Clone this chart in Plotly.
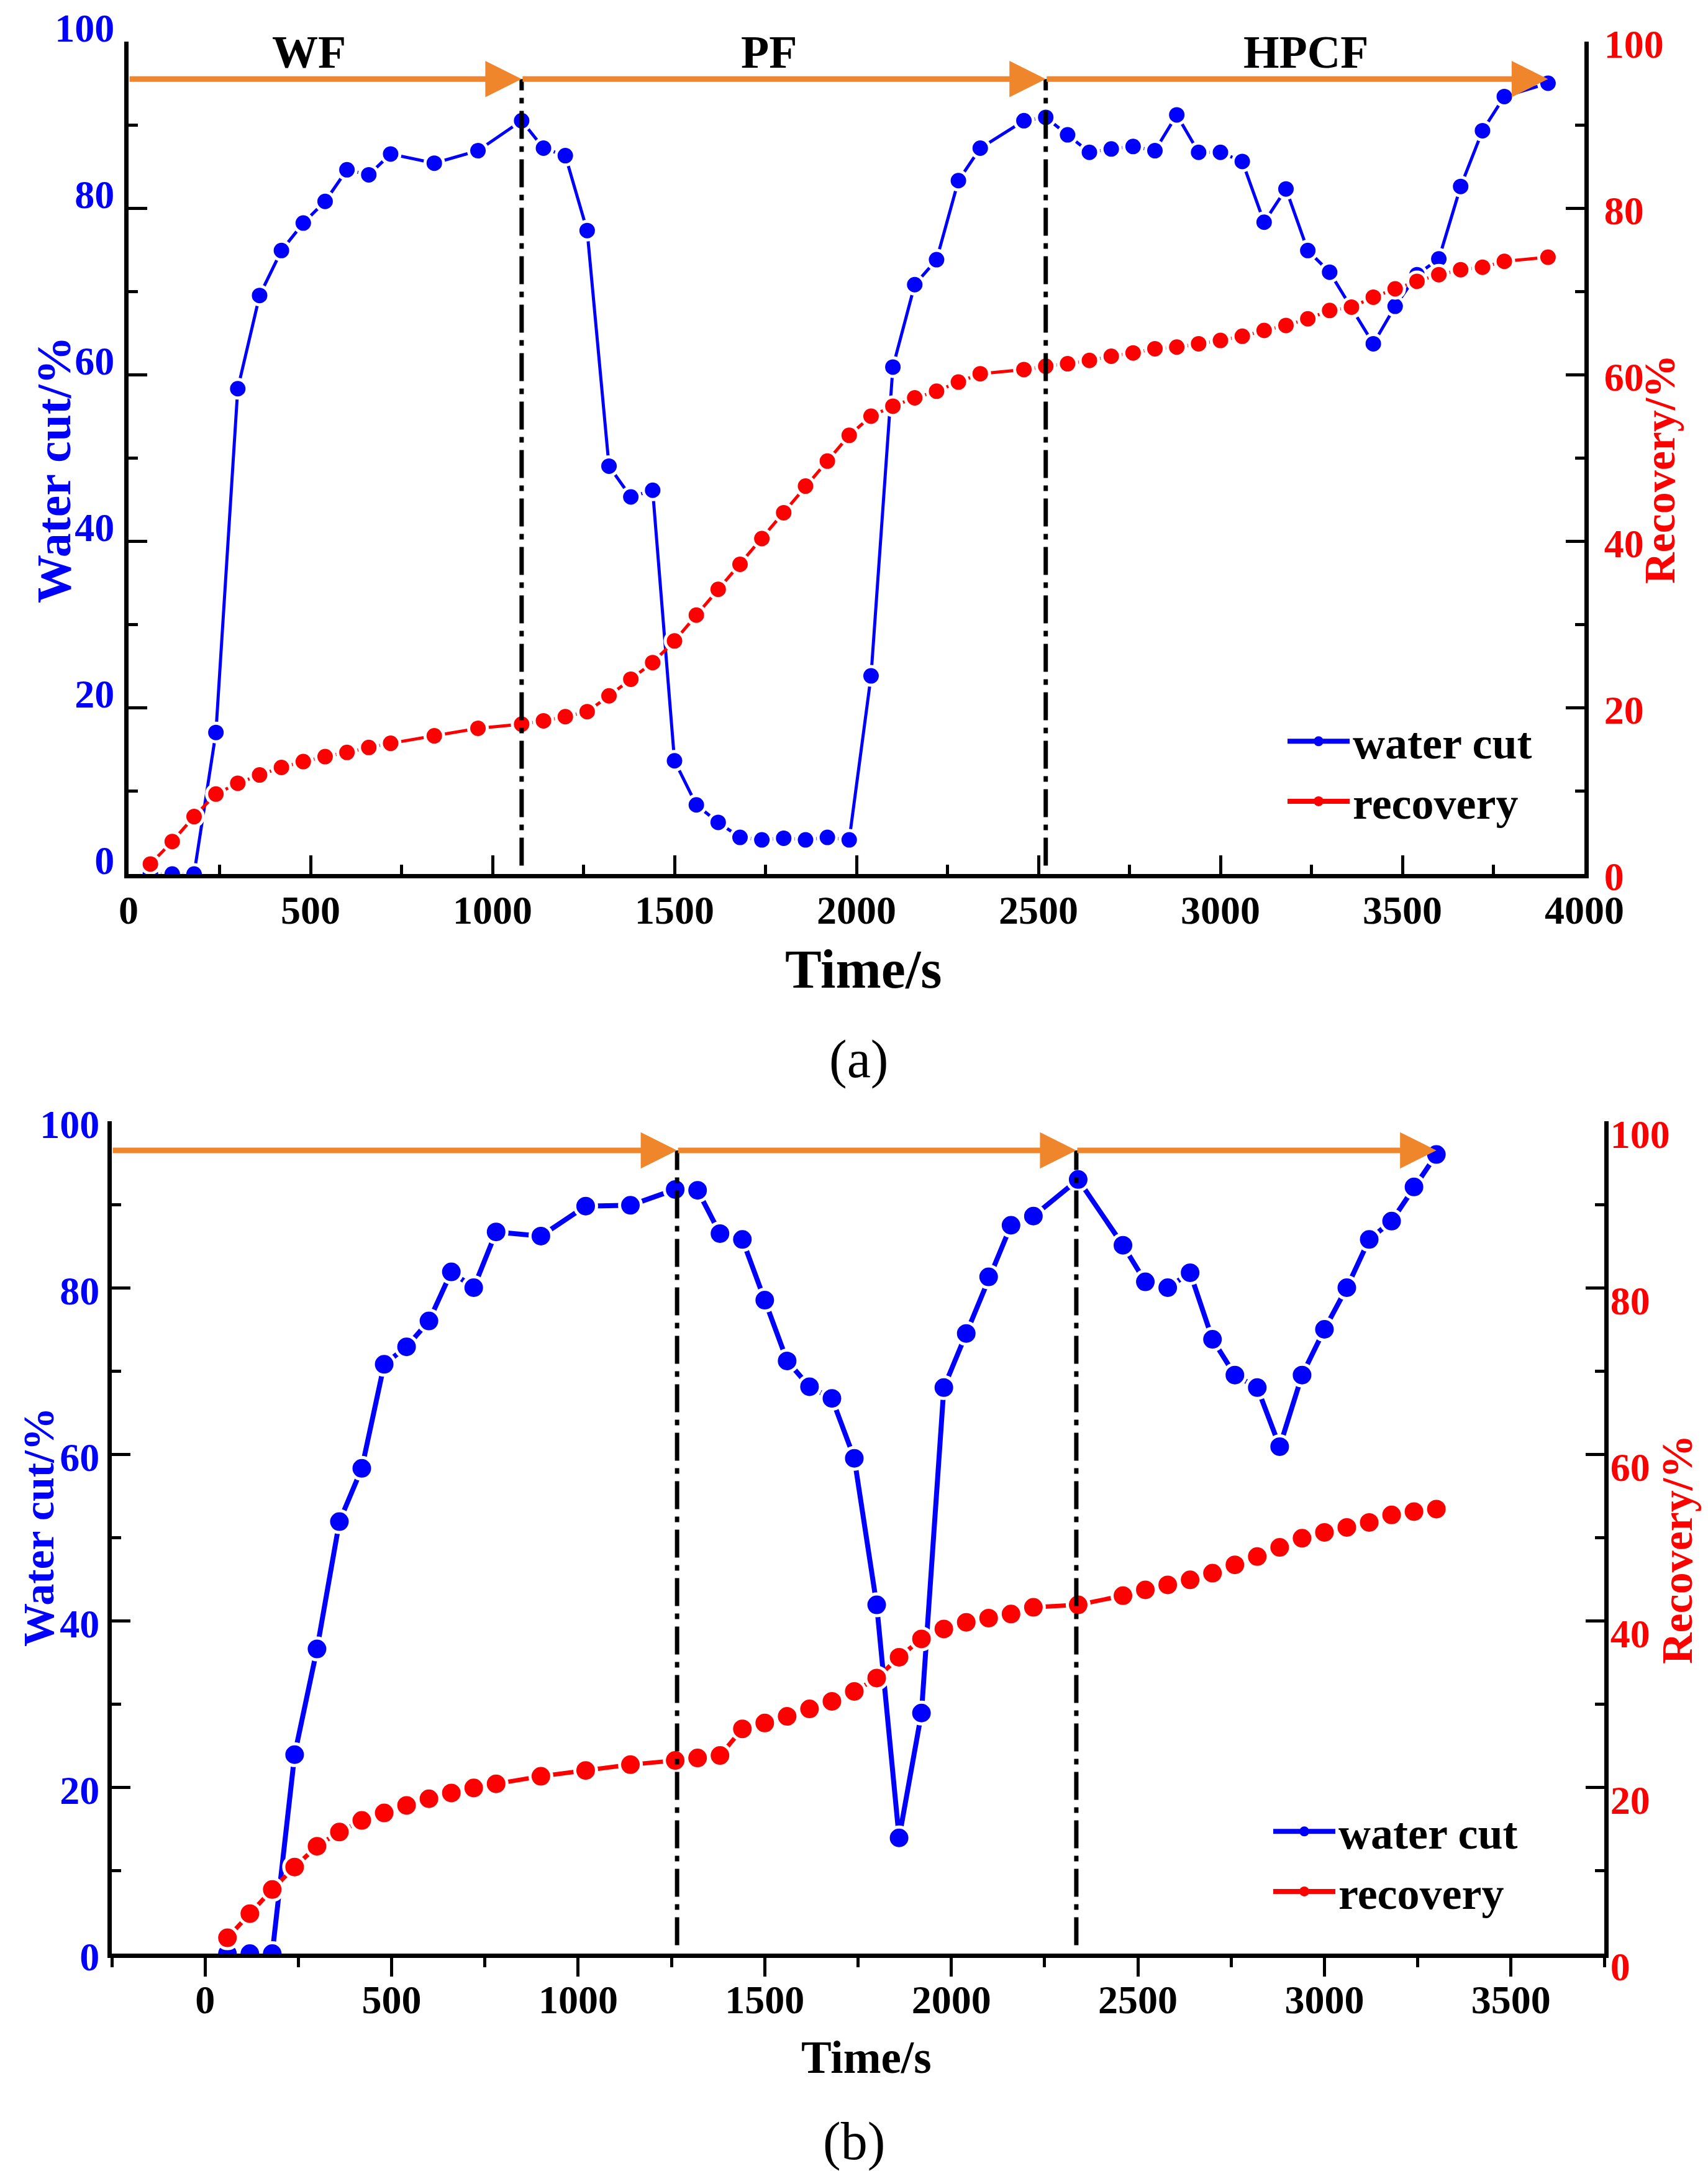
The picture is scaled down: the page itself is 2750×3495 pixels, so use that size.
import plotly.graph_objects as go

W, H = 2750, 3495
PAGE_MARGIN = 8  # the browser's default body margin shifts the figure
FONT = "Liberation Serif"
BLUE = "#0000FF"
RED = "#FF0000"
ORANGE = "#F0862C"

# ---- panel (a) data ----
time_a = [60, 120, 180, 240, 300, 360, 420, 480, 540, 600, 660, 720, 840, 960, 1080,
          1140, 1200, 1260, 1320, 1380, 1440, 1500, 1560, 1620, 1680, 1740, 1800, 1860,
          1920, 1980, 2040, 2100, 2160, 2220, 2280, 2340, 2460, 2520, 2580, 2640, 2700,
          2760, 2820, 2880, 2940, 3000, 3060, 3120, 3180, 3240, 3300, 3360, 3420, 3480,
          3540, 3600, 3660, 3720, 3780, 3900]
water_cut_a = [0, 0, 0, 17.0, 58.3, 69.5, 74.9, 78.2, 80.8, 84.6, 84.0, 86.5, 85.4, 86.9, 90.5,
               87.2, 86.3, 77.3, 49.0, 45.3, 46.1, 13.6, 8.3, 6.2, 4.4, 4.1, 4.3, 4.1,
               4.4, 4.1, 23.8, 60.9, 70.8, 73.8, 83.3, 87.2, 90.5, 90.9, 88.8, 86.7, 87.1,
               87.4, 86.9, 91.2, 86.7, 86.7, 85.6, 78.3, 82.3, 74.9, 72.3, 68.0, 63.7, 68.2,
               72.0, 73.9, 82.6, 89.3, 93.4, 95.0]
recovery_a = [1.2, 3.9, 6.9, 9.6, 10.9, 11.9, 12.8, 13.5, 14.1, 14.6, 15.2, 15.7, 16.6, 17.5, 18.0,
              18.4, 18.9, 19.5, 21.4, 23.4, 25.4, 28.0, 31.1, 34.2, 37.2, 40.3, 43.4, 46.6,
              49.6, 52.7, 55.0, 56.2, 57.2, 58.0, 59.1, 60.1, 60.6, 61.0, 61.3, 61.7, 62.2,
              62.6, 63.1, 63.3, 63.7, 64.1, 64.6, 65.3, 65.9, 66.7, 67.7, 68.1, 69.3, 70.3,
              71.2, 72.0, 72.6, 72.9, 73.6, 74.1]
phase_bounds_a = [0, 1080, 2520, 3900]

# ---- panel (b) data ----
time_b = [60, 120, 180, 240, 300, 360, 420, 480, 540, 600, 660, 720, 780, 900, 1020, 1140,
          1260, 1320, 1380, 1440, 1500, 1560, 1620, 1680, 1740, 1800, 1860, 1920, 1980,
          2040, 2100, 2160, 2220, 2340, 2460, 2520, 2580, 2640, 2700, 2760, 2820, 2880,
          2940, 3000, 3060, 3120, 3180, 3240, 3300]
water_cut_b = [0, 0, 0, 23.9, 36.6, 51.9, 58.3, 70.8, 72.9, 76.0, 81.9, 80.0, 86.7, 86.2, 89.8, 89.9,
               91.8, 91.7, 86.5, 85.8, 78.5, 71.2, 68.1, 66.7, 59.5, 41.9, 13.9, 28.9, 68.0,
               74.5, 81.3, 87.5, 88.6, 93.0, 85.1, 80.7, 80.0, 81.8, 73.8, 69.5, 68.0, 60.9,
               69.5, 75.0, 80.0, 85.8, 88.0, 92.1, 96.0]
recovery_b = [1.9, 4.8, 7.7, 10.4, 12.9, 14.6, 16.0, 16.9, 17.8, 18.6, 19.3, 19.9, 20.4, 21.3, 22.0, 22.7,
              23.2, 23.5, 23.8, 27.0, 27.7, 28.5, 29.4, 30.3, 31.5, 33.1, 35.6, 37.8, 39.0,
              39.8, 40.3, 40.8, 41.6, 41.9, 43.0, 43.7, 44.3, 44.9, 45.7, 46.7, 47.7, 48.8,
              49.9, 50.6, 51.2, 51.8, 52.7, 53.1, 53.4]
phase_bounds_b = [-250, 1265, 2335, 3300]

phase_names = ["WF", "PF", "HPCF"]
series_names = ["water cut", "recovery"]

# where the phase names sit along the time axis
label_time_a = [495, 1760, 3235]
label_time_b = [520, 1790, 2785]


def px_x(p):
    return (p - PAGE_MARGIN) / W


def px_y(p):
    return 1 - (p - PAGE_MARGIN) / H


def bold(size, color="black"):
    return dict(family=FONT, size=size, color=color, weight="bold")


def x_axis(domain, rng, ticks, anchor, standoff):
    return dict(domain=domain, range=rng, anchor=anchor, automargin=False,
                tickmode="linear", tick0=0, dtick=500,
                ticks=ticks, ticklen=30, tickwidth=5, tickcolor="black",
                minor=dict(ticks=ticks, ticklen=15, tickwidth=5, tick0=0, dtick=250, tickcolor="black"),
                showline=True, linewidth=7, linecolor="black",
                showgrid=False, zeroline=False,
                tickfont=bold(64), ticklabelstandoff=standoff)


def y_axis(color, side, anchor, shift, standoff, domain=None, overlaying=None):
    ax = dict(range=[0, 100], anchor=anchor, side=side, automargin=False,
              tickmode="linear", tick0=0, dtick=20,
              ticks="inside", ticklen=30, tickwidth=5, tickcolor="black",
              minor=dict(ticks="inside", ticklen=15, tickwidth=5, dtick=10, tickcolor="black"),
              showline=True, linewidth=7, linecolor="black",
              showgrid=False, zeroline=False,
              tickfont=bold(64, color), ticklabelshift=shift, ticklabelstandoff=standoff)
    if domain is not None:
        ax["domain"] = domain
    if overlaying is not None:
        ax["overlaying"] = overlaying
    return ax


def series(x, y, color, xa, ya, lw, msize):
    # white marker rim gives the small gap between line and symbol
    return go.Scatter(x=x, y=y, mode="lines+markers", showlegend=False,
                      xaxis=xa, yaxis=ya,
                      line=dict(color=color, width=lw),
                      marker=dict(color=color, size=msize, line=dict(color="white", width=5)))


def legend_entry(name, color, xa, ya, legend, lw):
    return go.Scatter(x=[None], y=[None], name=name, mode="lines+markers",
                      xaxis=xa, yaxis=ya, legend=legend,
                      line=dict(color=color, width=lw),
                      marker=dict(color=color, size=24))


fig = go.Figure()
fig.add_trace(series(time_a, water_cut_a, BLUE, "x", "y", 5, 30))
fig.add_trace(series(time_a, recovery_a, RED, "x", "y2", 5, 30))
fig.add_trace(series(time_b, water_cut_b, BLUE, "x2", "y3", 8, 35))
fig.add_trace(series(time_b, recovery_b, RED, "x2", "y4", 7, 35))
fig.add_trace(legend_entry(series_names[0], BLUE, "x", "y", "legend", 8))
fig.add_trace(legend_entry(series_names[1], RED, "x", "y2", "legend", 8))
fig.add_trace(legend_entry(series_names[0], BLUE, "x2", "y3", "legend2", 8))
fig.add_trace(legend_entry(series_names[1], RED, "x2", "y4", "legend2", 8))

shapes = []
annotations = []


def phases(bounds, label_times, xref, yref, level, label_y, label_size):
    for i, name in enumerate(phase_names):
        x0, x1 = bounds[i], bounds[i + 1]
        annotations.append(dict(x=x1, y=level, ax=x0, ay=level, xref=xref, yref=yref,
                                axref=xref, ayref=yref, text="", showarrow=True,
                                arrowhead=2, arrowsize=1.3, arrowwidth=9, arrowcolor=ORANGE))
        annotations.append(dict(x=label_times[i], y=label_y, xref=xref, yref=yref, text=name,
                                showarrow=False, font=bold(label_size), yanchor="middle"))
    for xb in bounds[1:-1]:
        shapes.append(dict(type="line", xref=xref, yref=yref, x0=xb, x1=xb, y0=1, y1=level,
                           line=dict(color="black", width=7, dash="45px,12px,9px,12px")))


phases(phase_bounds_a, label_time_a, "x", "y", 95.5, 98.7, 74)
phases(phase_bounds_b, label_time_b, "x2", "y3", 96.5, 100.3, 72)


def text(x, y, s, size, color="black", angle=0, weight="bold"):
    annotations.append(dict(x=px_x(x), y=px_y(y), xref="paper", yref="paper", text=s,
                            showarrow=False, textangle=angle, xanchor="center", yanchor="middle",
                            font=dict(family=FONT, size=size, color=color, weight=weight)))


text(86, 756, "Water cut/%", 78, BLUE, -90)
text(2672, 756, "Recovery/%", 70, RED, -90)
text(1391, 1560, "Time/s", 88)
text(1382, 1705, "(a)", 86, weight="normal")

text(62, 2458, "Water cut/%", 70, BLUE, -90)
text(2700, 2495, "Recovery/%", 70, RED, -90)
text(1395, 3312, "Time/s", 73)
text(1375, 3447, "(b)", 86, weight="normal")

fig.update_layout(
    template="none",
    width=W, height=H,
    margin=dict(l=0, r=0, t=0, b=0, pad=0),
    paper_bgcolor="white", plot_bgcolor="white",
    font=dict(family=FONT, color="black"),
    xaxis=x_axis([px_x(207), px_x(2551)], [0, 4000], "inside", "y", -4),
    yaxis=y_axis(BLUE, "left", "x", -22, 3, domain=[px_y(1407), px_y(67)]),
    yaxis2=y_axis(RED, "right", "x", 4, 12, overlaying="y"),
    xaxis2=x_axis([px_x(180), px_x(2583)], [-250, 3750], "outside", "y3", -18),
    yaxis3=y_axis(BLUE, "left", "x2", 5, 0, domain=[px_y(3145), px_y(1805)]),
    yaxis4=y_axis(RED, "right", "x2", 21, -10, overlaying="y3"),
    legend=dict(x=px_x(2068), y=px_y(1140), xanchor="left", yanchor="top", itemwidth=100,
                font=bold(72), bgcolor="rgba(0,0,0,0)", tracegroupgap=0),
    legend2=dict(x=px_x(2045), y=px_y(2895), xanchor="left", yanchor="top", itemwidth=100,
                 font=bold(72), bgcolor="rgba(0,0,0,0)", tracegroupgap=0),
    shapes=shapes,
    annotations=annotations,
)

fig.write_html("out.html")
